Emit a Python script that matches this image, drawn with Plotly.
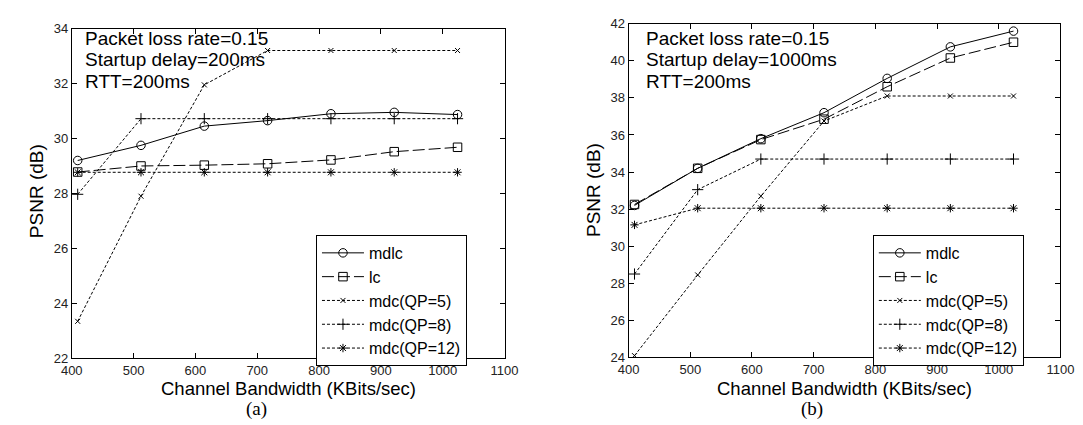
import plotly.graph_objects as go

W, H = 1083, 425

# ---------------- data ----------------
bandwidth = [409.6, 512, 614.4, 716.8, 819.2, 921.6, 1024]

series_names = ["mdlc", "lc", "mdc(QP=5)", "mdc(QP=8)", "mdc(QP=12)"]

# (a) startup delay = 200 ms
mdlc_a = [29.2, 29.75, 30.45, 30.65, 30.9, 30.95, 30.87]
lc_a = [28.78, 29.0, 29.03, 29.08, 29.22, 29.52, 29.68]
mdc5_a = [23.35, 27.9, 31.95, 33.2, 33.2, 33.2, 33.2]
mdc8_a = [27.97, 30.72, 30.72, 30.72, 30.72, 30.72, 30.72]
mdc12_a = [28.77, 28.77, 28.77, 28.77, 28.77, 28.77, 28.77]

# (b) startup delay = 1000 ms
mdlc_b = [32.2, 34.2, 35.8, 37.2, 39.05, 40.75, 41.6]
lc_b = [32.25, 34.2, 35.75, 36.85, 38.6, 40.15, 41.0]
mdc5_b = [24.1, 28.45, 32.7, 36.75, 38.1, 38.1, 38.1]
mdc8_b = [28.5, 33.05, 34.7, 34.7, 34.7, 34.7, 34.7]
mdc12_b = [31.15, 32.05, 32.05, 32.05, 32.05, 32.05, 32.05]

x_ticks = [400, 500, 600, 700, 800, 900, 1000, 1100]
y_ticks_a = [22, 24, 26, 28, 30, 32, 34]
y_ticks_b = [24, 26, 28, 30, 32, 34, 36, 38, 40, 42]

notes_a = ["Packet loss rate=0.15", "Startup delay=200ms", "RTT=200ms"]
notes_b = ["Packet loss rate=0.15", "Startup delay=1000ms", "RTT=200ms"]
x_title = "Channel Bandwidth (KBits/sec)"
y_title = "PSNR (dB)"
panel_labels = ["(a)", "(b)"]

# ---------------- styles ----------------
styles = [
    dict(dash="solid", symbol="circle-open", size=8.5),
    dict(dash="12px,4px", symbol="square-open", size=8.5),
    dict(dash="3px,2px", symbol="x-thin-open", size=5),
    dict(dash="3px,2px", symbol="cross-thin-open", size=8),
    dict(dash="3px,2px", symbol="asterisk-open", size=7),
]

FONT = "Liberation Sans, Arial, sans-serif"


def px(x):
    return x / W


def py(y):
    return 1 - y / H


fig = go.Figure()

panels = [
    dict(xa="x", ya="y", legend="legend",
         data=[mdlc_a, lc_a, mdc5_a, mdc8_a, mdc12_a]),
    dict(xa="x2", ya="y2", legend="legend2",
         data=[mdlc_b, lc_b, mdc5_b, mdc8_b, mdc12_b]),
]

for p in panels:
    for name, vals, st in zip(series_names, p["data"], styles):
        fig.add_trace(go.Scatter(
            x=bandwidth, y=vals, name=name, mode="lines+markers",
            xaxis=p["xa"], yaxis=p["ya"], legend=p["legend"],
            line=dict(color="black", width=1, dash=st["dash"]),
            marker=dict(symbol=st["symbol"], size=st["size"], color="black",
                        line=dict(color="black", width=1)),
        ))

axis_common = dict(
    showline=True, linecolor="black", linewidth=1, mirror="ticks",
    ticks="inside", ticklen=5, tickcolor="black", showgrid=False,
    zeroline=False, tickfont=dict(family=FONT, size=13, color="#222"),
)

# panel geometry (reference pixels)
A = dict(l=54, r=497, t=14, b=356)
B = dict(l=624, r=1066, t=9, b=355)

legend_common = dict(
    xanchor="left", yanchor="top", bordercolor="black", borderwidth=1,
    bgcolor="white", font=dict(family=FONT, size=16, color="black"),
    itemwidth=42, tracegroupgap=0,
)

fig.update_layout(
    width=W, height=H, margin=dict(l=0, r=0, t=0, b=0),
    paper_bgcolor="white", plot_bgcolor="white",
    font=dict(family=FONT, color="black"),
    xaxis=dict(domain=[px(A["l"]), px(A["r"])], range=[400, 1100],
               tickvals=x_ticks, anchor="y", **axis_common),
    yaxis=dict(domain=[py(A["b"]), py(A["t"])], range=[22, 34],
               tickvals=y_ticks_a, anchor="x", **axis_common),
    xaxis2=dict(domain=[px(B["l"]), px(B["r"])], range=[400, 1100],
                tickvals=x_ticks, anchor="y2", **axis_common),
    yaxis2=dict(domain=[py(B["b"]), py(B["t"])], range=[24, 42],
                tickvals=y_ticks_b, anchor="x2", **axis_common),
    legend=dict(x=px(304), y=py(228), **legend_common),
    legend2=dict(x=px(874), y=py(228), **legend_common),
    showlegend=True,
)

annotations = []
for notes, x0 in [(notes_a, 66), (notes_b, 640)]:
    for i, t in enumerate(notes):
        annotations.append(dict(
            text=t, x=px(x0), y=py(24 + 22.5 * i), xref="paper", yref="paper",
            xanchor="left", yanchor="middle", showarrow=False,
            font=dict(family=FONT, size=19, color="black")))

for cx in [(A["l"] + A["r"]) / 2, (B["l"] + B["r"]) / 2]:
    annotations.append(dict(
        text=x_title, x=px(cx), y=py(387), xref="paper", yref="paper",
        xanchor="center", yanchor="middle", showarrow=False,
        font=dict(family=FONT, size=18.5, color="black")))

for cx, cy in [(18, 183), (588, 181)]:
    annotations.append(dict(
        text=y_title, x=px(cx), y=py(cy), xref="paper", yref="paper",
        xanchor="center", yanchor="middle", showarrow=False, textangle=-90,
        font=dict(family=FONT, size=19, color="black")))

for lab, cx in zip(panel_labels, [243, 812]):
    annotations.append(dict(
        text=lab, x=px(cx), y=py(408), xref="paper", yref="paper",
        xanchor="center", yanchor="middle", showarrow=False,
        font=dict(family="Liberation Serif, Times New Roman, serif",
                  size=19, color="black")))

fig.update_layout(annotations=annotations)

fig.write_html("out.html")
